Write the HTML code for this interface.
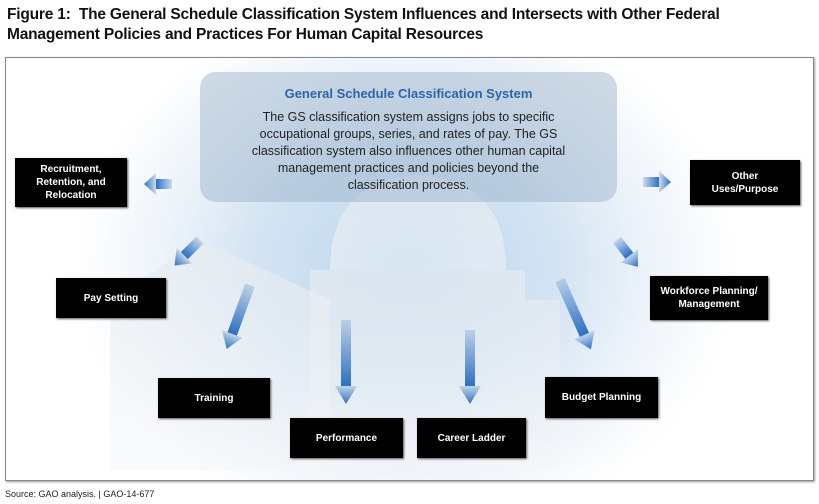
<!DOCTYPE html>
<html><head><style>
body{margin:0;width:819px;height:504px;background:#fff;position:relative;overflow:hidden;font-family:"Liberation Sans",sans-serif}
.t{position:absolute;left:7px;top:5px;font-weight:bold;font-size:15.5px;line-height:20px;color:#111;letter-spacing:-0.2px}
.fr{position:absolute;left:5px;top:57px;width:807px;height:422px;border:1px solid #888;box-shadow:1px 1px 2px #999;
background:radial-gradient(ellipse 330px 270px at 400px 210px,#bcd6ee 0%,#d3e3f2 45%,#eef4fa 75%,#fff 100%)}
.b{position:absolute;background:#000;color:#fff;font-weight:bold;font-size:10px;display:flex;align-items:center;justify-content:center;text-align:center;line-height:13px;box-shadow:1px 1px 2px #555}
.c{position:absolute;left:200px;top:72px;width:417px;height:130px;border-radius:16px;background:rgba(150,175,200,0.45)}
.c h{display:block;text-align:center;color:#2f64a8;font-weight:bold;font-size:13px;margin-top:14px}
.c p{margin:8px 0 0;text-align:center;font-size:12.5px;line-height:17px;color:#222}
.s{position:absolute;left:5px;top:489px;font-size:9px;color:#222}
</style></head><body>
<div class="t">Figure 1:&nbsp; The General Schedule Classification System Influences and Intersects with Other Federal<br>Management Policies and Practices For Human Capital Resources</div>
<div class="fr"></div>
<svg style="position:absolute;left:0;top:0" width="819" height="504">
<defs><linearGradient id="g" x1="0" y1="0" x2="1" y2="0"><stop offset="0" stop-color="#2f6fc0" stop-opacity="0.2"/><stop offset="1" stop-color="#2f6fc0"/></linearGradient>
<linearGradient id="w" x1="0" y1="0" x2="0" y2="1"><stop offset="0" stop-color="#e6ebf0" stop-opacity="0.7"/><stop offset="1" stop-color="#f4f6f8" stop-opacity="0.5"/></linearGradient></defs>
<g fill="url(#w)">
<path d="M330,270 Q330,180 418,175 Q506,180 506,270 Z"/>
<rect x="310" y="270" width="215" height="200"/>
<polygon points="110,300 200,240 330,300 330,470 110,470"/>
<polygon points="525,300 560,300 560,470 525,470"/>
</g>
<g fill="url(#g)">
<g transform="translate(172,184) rotate(180)"><rect x="0" y="-5" width="16" height="10"/><polygon points="16,-11 28,0 16,11"/></g>
<g transform="translate(643,182)"><rect x="0" y="-5" width="16" height="10"/><polygon points="16,-11 28,0 16,11"/></g>
<g transform="translate(200,240) rotate(135)"><rect x="0" y="-5" width="22" height="10"/><polygon points="22,-11 36,0 22,11"/></g>
<g transform="translate(617,240) rotate(52)"><rect x="0" y="-5" width="20" height="10"/><polygon points="20,-11 34,0 20,11"/></g>
<g transform="translate(250,285) rotate(110)"><rect x="0" y="-5" width="52" height="10"/><polygon points="52,-11 68,0 52,11"/></g>
<g transform="translate(346,320) rotate(90)"><rect x="0" y="-5" width="66" height="10"/><polygon points="66,-11 84,0 66,11"/></g>
<g transform="translate(470,330) rotate(90)"><rect x="0" y="-5" width="56" height="10"/><polygon points="56,-11 74,0 56,11"/></g>
<g transform="translate(560,280) rotate(66)"><rect x="0" y="-5" width="60" height="10"/><polygon points="60,-11 76,0 60,11"/></g>
</g></svg>
<div class="c"><h>General Schedule Classification System</h><p>The GS classification system assigns jobs to specific<br>occupational groups, series, and rates of pay. The GS<br>classification system also influences other human capital<br>management practices and policies beyond the<br>classification process.</p></div>
<div class="b" style="left:15px;top:158px;width:112px;height:49px">Recruitment,<br>Retention, and<br>Relocation</div>
<div class="b" style="left:690px;top:160px;width:110px;height:45px">Other<br>Uses/Purpose</div>
<div class="b" style="left:56px;top:278px;width:110px;height:40px">Pay Setting</div>
<div class="b" style="left:650px;top:276px;width:118px;height:44px">Workforce Planning/<br>Management</div>
<div class="b" style="left:158px;top:378px;width:112px;height:40px">Training</div>
<div class="b" style="left:545px;top:377px;width:113px;height:41px">Budget Planning</div>
<div class="b" style="left:290px;top:418px;width:113px;height:40px">Performance</div>
<div class="b" style="left:417px;top:418px;width:109px;height:40px">Career Ladder</div>
<div class="s">Source: GAO analysis. | GAO-14-677</div>
</body></html>
